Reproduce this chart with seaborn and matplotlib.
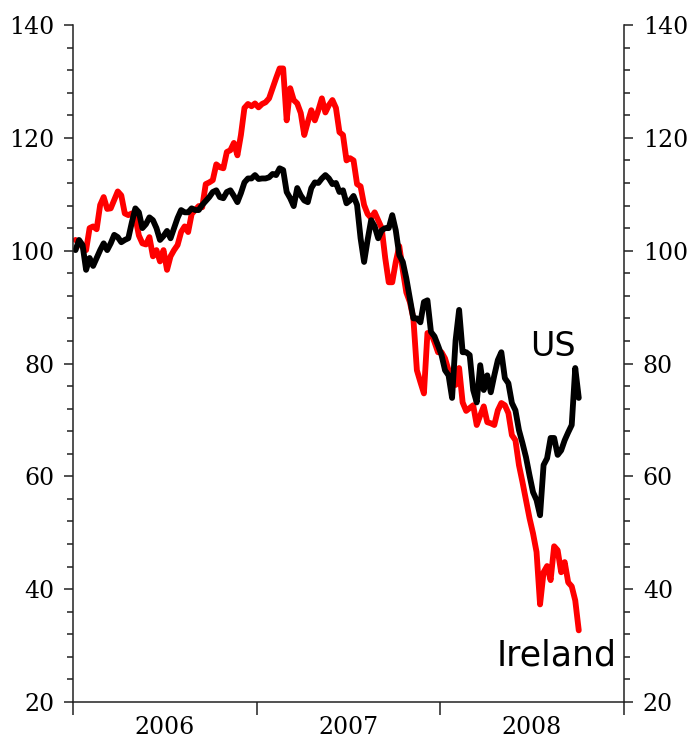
import pandas as pd
import matplotlib.pyplot as plt
import matplotlib.dates as mdates
from matplotlib.ticker import MultipleLocator
import seaborn as sns

# weekly index levels, start of 2006 = 100
ireland = [101.9, 101.5, 100.6, 100.1, 104.0, 104.3, 103.8, 108.1, 109.5, 107.4,
           107.5, 109.0, 110.5, 109.8, 106.6, 106.3, 106.6, 105.9, 102.7, 101.3,
           101.1, 102.4, 99.0, 100.1, 98.1, 100.1, 96.6, 99.0, 100.1, 101.0,
           103.3, 104.3, 103.3, 106.5, 107.2, 107.9, 107.7, 111.8, 112.1, 112.5,
           115.3, 114.8, 114.6, 117.5, 117.8, 119.1, 116.9, 120.5, 125.3, 126.0,
           125.6, 126.1, 125.4, 126.0, 126.3, 127.0, 128.8, 130.6, 132.3, 132.3,
           123.1, 128.8, 126.7, 126.1, 124.4, 120.5, 122.8, 124.9, 123.1, 124.9,
           127.0, 124.5, 125.8, 126.7, 125.3, 121.0, 120.5, 116.0, 116.4, 116.0,
           111.8, 111.4, 108.1, 106.5, 105.8, 106.8, 105.4, 104.0, 98.7, 94.4,
           94.4, 98.0, 100.8, 96.5, 92.6, 90.9, 88.0, 78.8, 76.7, 74.7,
           85.4, 85.4, 83.8, 82.0, 82.0, 80.9, 78.8, 76.7, 76.2, 79.2,
           73.1, 71.6, 72.1, 72.6, 69.1, 70.8, 72.4, 69.6, 69.4, 69.1,
           71.7, 73.0, 72.6, 71.2, 67.3, 66.4, 62.0, 59.0, 55.8, 52.6,
           49.9, 46.6, 37.3, 43.0, 44.1, 41.6, 47.6, 46.9, 43.0, 44.8,
           41.2, 40.5, 38.0, 32.7]
us = [100.1, 101.9, 101.0, 96.6, 98.7, 97.3, 98.7, 100.1, 101.3, 100.1,
      101.3, 102.8, 102.4, 101.5, 101.9, 102.2, 105.0, 107.5, 106.8, 104.0,
      104.7, 105.9, 105.4, 104.0, 101.9, 102.6, 103.5, 102.2, 104.0, 105.8,
      107.2, 106.8, 106.8, 107.5, 107.2, 107.2, 108.1, 108.8, 109.5, 110.4,
      110.7, 109.5, 109.3, 110.4, 110.7, 109.7, 108.6, 110.2, 112.1, 112.8,
      112.8, 113.4, 112.7, 112.8, 112.8, 113.0, 113.6, 113.4, 114.6, 114.3,
      110.4, 109.3, 107.9, 111.1, 109.8, 108.9, 108.6, 111.1, 112.1, 112.0,
      112.8, 113.4, 112.8, 111.8, 112.0, 110.4, 110.7, 108.4, 108.9, 109.7,
      108.1, 102.2, 98.0, 101.9, 105.4, 104.3, 102.2, 103.6, 104.0, 104.0,
      106.3, 103.6, 99.2, 98.0, 95.1, 91.6, 88.0, 88.0, 87.3, 90.9,
      91.2, 85.6, 84.8, 83.2, 81.5, 78.8, 77.9, 73.9, 84.1, 89.5,
      82.0, 82.0, 81.5, 75.3, 73.1, 79.7, 75.3, 77.9, 74.9, 77.9,
      80.6, 82.0, 77.4, 76.5, 73.0, 71.7, 68.2, 65.9, 63.4, 60.2,
      57.2, 55.8, 53.1, 62.0, 63.2, 66.8, 66.8, 63.8, 64.6, 66.4,
      67.8, 69.1, 79.2, 73.9]
dates = pd.date_range("2006-01-06", periods=len(us), freq="W-FRI")

df = pd.DataFrame({"date": dates, "Ireland": ireland, "US": us})

sns.set_style("ticks")
plt.rcParams["font.family"] = ["DejaVu Serif"]

fig = plt.figure(figsize=(6.98, 7.42), dpi=100)
ax = fig.add_axes([0.1046, 0.0539, 0.7894, 0.9124])

sns.lineplot(data=df, x="date", y="Ireland", color="#ff0000", lw=4.2, ax=ax)
sns.lineplot(data=df, x="date", y="US", color="black", lw=4.2, ax=ax)

ax.set_ylim(20, 140)
ax.set_xlim(pd.Timestamp("2006-01-01"), pd.Timestamp("2009-01-01"))
ax.set_xlabel("")
ax.set_ylabel("")

# y axis: labels on both sides
ax.yaxis.set_major_locator(MultipleLocator(20))
ax.yaxis.set_minor_locator(MultipleLocator(4))
ax.tick_params(axis="y", which="both", left=True, right=True,
               labelleft=True, labelright=True, direction="out",
               labelsize=17, colors="#222222", labelcolor="black")
ax.tick_params(axis="y", which="major", length=6.5, width=1.1, pad=7)
ax.tick_params(axis="y", which="minor", length=4.3, width=1.1)

# x axis: long ticks at year boundaries, year names in between
ax.xaxis.set_major_locator(mdates.YearLocator())
ax.xaxis.set_major_formatter(plt.NullFormatter())
ax.xaxis.set_minor_locator(mdates.MonthLocator(bymonth=7, bymonthday=2))
ax.xaxis.set_minor_formatter(mdates.DateFormatter("%Y"))
ax.tick_params(axis="x", which="major", length=9.5, width=1.1, direction="out",
               colors="#222222")
ax.tick_params(axis="x", which="minor", length=0, pad=10, labelsize=17,
               labelcolor="black")

for side in ["left", "right", "bottom"]:
    ax.spines[side].set_visible(True)
    ax.spines[side].set_linewidth(1.1)
    ax.spines[side].set_color("#222222")
ax.spines["top"].set_visible(False)

hand = ["DejaVu Sans"]
ax.text(pd.Timestamp("2008-08-12"), 83.0, "US", family=hand, fontsize=24,
        ha="center", va="center", color="black")
ax.text(pd.Timestamp("2008-08-20"), 28.3, "Ireland", family=hand, fontsize=25,
        ha="center", va="center", color="black")

fig.savefig("out.png", dpi=100)
